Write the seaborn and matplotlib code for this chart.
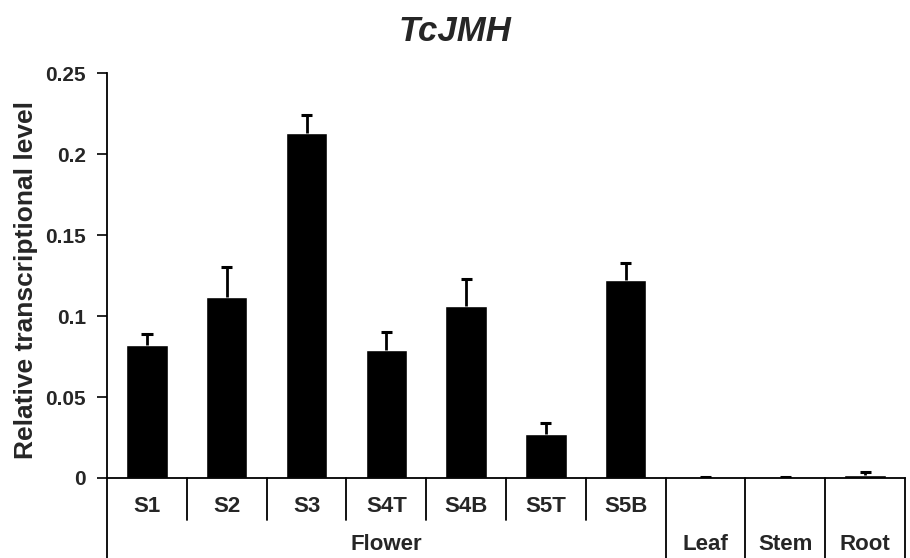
import numpy as np
import pandas as pd
import seaborn as sns
import matplotlib.pyplot as plt

# Data
samples = ["S1", "S2", "S3", "S4T", "S4B", "S5T", "S5B", "Leaf", "Stem", "Root"]
levels = [0.082, 0.112, 0.213, 0.079, 0.106, 0.027, 0.122, 0.0005, 0.0005, 0.002]
errors = [0.007, 0.018, 0.011, 0.011, 0.017, 0.007, 0.011, 0.0003, 0.0003, 0.0015]
flower_parts = ["S1", "S2", "S3", "S4T", "S4B", "S5T", "S5B"]
tissues = ["Leaf", "Stem", "Root"]
yticks = [0, 0.05, 0.1, 0.15, 0.2, 0.25]
ytick_labels = ["0", "0.05", "0.1", "0.15", "0.2", "0.25"]

df = pd.DataFrame({"Sample": samples, "Level": levels, "Err": errors})

sns.set_style("white")
plt.rcParams["font.family"] = ["Liberation Sans", "DejaVu Sans"]
plt.rcParams["font.weight"] = "bold"

fig, ax = plt.subplots(figsize=(9.1, 5.58), dpi=100)
fig.subplots_adjust(left=0.1176, right=0.9945, bottom=0.1434, top=0.869)

sns.barplot(data=df, x="Sample", y="Level", order=samples, color="black",
            errorbar=None, width=0.52, saturation=1, ax=ax)

# upward-only error bars: stem + cap
xs = np.arange(len(samples))
tops = df["Level"] + df["Err"]
ax.vlines(xs, df["Level"], tops, color="black", lw=2)
ax.hlines(tops, xs - 0.07, xs + 0.07, color="black", lw=2.2)

ax.set_xlim(-0.5, len(samples) - 0.5)
ax.set_ylim(0, 0.25)
ax.set_yticks(yticks)
ax.set_yticklabels(ytick_labels, fontsize=15, fontweight="bold")
ax.tick_params(axis="y", direction="out", length=7, width=1.2, color="black", left=True, pad=8)
ax.set_xticks([])
ax.set_xlabel("")
ax.set_ylabel("Relative transcriptional level", fontsize=19, fontweight="bold")
ax.yaxis.set_label_coords(-0.086, 0.49)

sns.despine(ax=ax, top=True, right=True)
for side in ["left", "bottom"]:
    ax.spines[side].set_color("black")
    ax.spines[side].set_linewidth(1.3)

fig.text(0.5, 0.944, "TcJMH", fontsize=25, fontweight="bold", style="italic",
         ha="center", va="center")

# category table below the axis
trans = ax.get_xaxis_transform()
y_bot = -0.2
y_mid = -0.104
line_kw = dict(color="black", lw=1.3, transform=trans, clip_on=False)
ax.plot([-0.5, -0.5], [0, y_bot], **line_kw)
ax.plot([len(samples) - 0.5, len(samples) - 0.5], [0, y_bot], **line_kw)
n_fl = len(flower_parts)
for k in range(1, len(samples)):
    bottom = y_mid if k < n_fl else y_bot
    ax.plot([k - 0.5, k - 0.5], [0, bottom], **line_kw)

for i, name in enumerate(flower_parts):
    ax.text(i, -0.07, name, transform=trans, ha="center", va="center",
            fontsize=16, fontweight="bold")
ax.text((n_fl - 1) / 2, -0.165, "Flower", transform=trans, ha="center", va="center",
        fontsize=16, fontweight="bold")
for j, name in enumerate(tissues):
    ax.text(n_fl + j, -0.165, name, transform=trans, ha="center", va="center",
            fontsize=16, fontweight="bold")

fig.savefig("out.png", dpi=100)
